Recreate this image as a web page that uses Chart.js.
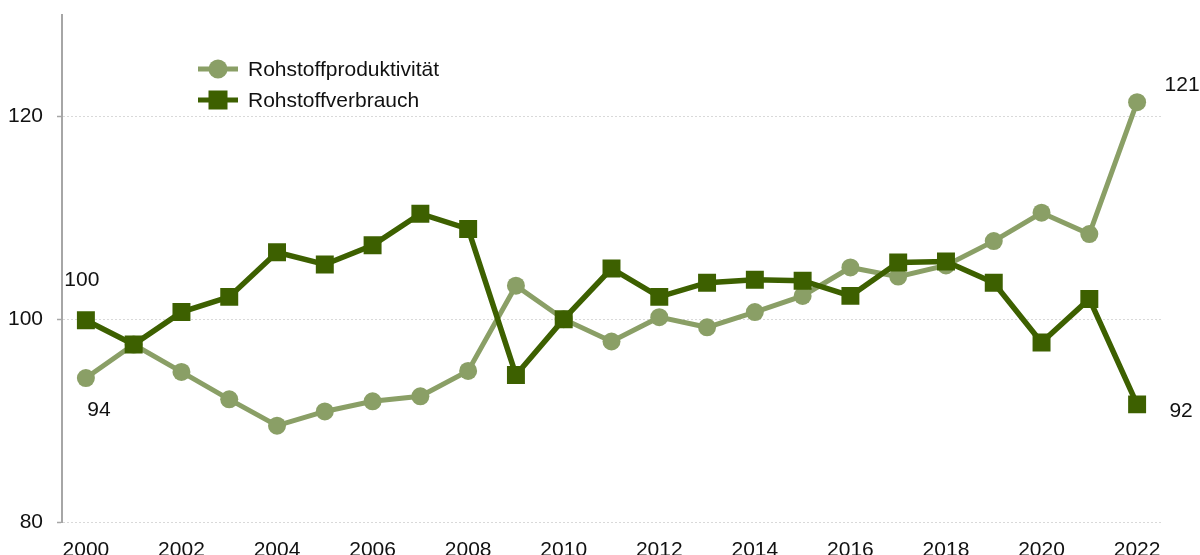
<!DOCTYPE html>
<html>
<head>
<meta charset="utf-8">
<script src="https://cdn.jsdelivr.net/npm/chart.js@4"></script>
<style>
  html, body { margin: 0; padding: 0; background: #fff; }
  #wrap { width: 1200px; height: 555px; }
</style>
</head>
<body>
<div id="wrap"><canvas id="myChart"></canvas></div>
<script>
// data block
var years = ['2000','2001','2002','2003','2004','2005','2006','2007','2008','2009','2010','2011',
             '2012','2013','2014','2015','2016','2017','2018','2019','2020','2021','2022'];
var produktivitaet = [94.2, 97.5, 94.8, 92.1, 89.5, 90.9, 91.9, 92.4, 94.9, 103.3, 100, 97.8,
                      100.2, 99.2, 100.7, 102.3, 105.1, 104.2, 105.3, 107.7, 110.5, 108.4, 121.4];
var verbrauch = [99.9, 97.5, 100.7, 102.2, 106.6, 105.4, 107.3, 110.4, 108.9, 94.5, 100, 105,
                 102.2, 103.6, 103.9, 103.8, 102.3, 105.6, 105.7, 103.6, 97.7, 102, 91.6];
var seriesNames = ['Rohstoffproduktivität', 'Rohstoffverbrauch'];
// which points get a value label: [dataset, index]
var valueLabels = [[1, 0], [0, 0], [0, 22], [1, 22]];

var lightGreen = '#8a9f66';
var darkGreen = '#3d6000';
var fontFam = '"Liberation Sans", Arial, sans-serif';

// offsets of the value labels from their point (dx, dy)
var labelOffsets = [[-4, -40], [13, 32], [45, -17], [44, 7]];

const valueLabelPlugin = {
    id: 'valueLabels',
    afterDatasetsDraw(chart) {
        const ctx = chart.ctx;
        ctx.save();
        ctx.font = '21px ' + fontFam;
        ctx.fillStyle = '#111';
        ctx.textAlign = 'center';
        ctx.textBaseline = 'middle';
        valueLabels.forEach(function(l, k) {
            var ds = chart.data.datasets[l[0]];
            var pt = chart.getDatasetMeta(l[0]).data[l[1]];
            ctx.fillText(Math.round(ds.data[l[1]]), pt.x + labelOffsets[k][0], pt.y + labelOffsets[k][1]);
        });
        ctx.restore();
    }
};

// legend drawn by hand so it sits inside the plot
const legendPlugin = {
    id: 'innerLegend',
    afterDraw(chart) {
        const ctx = chart.ctx;
        ctx.save();
        var rows = [
            { y: 69, color: lightGreen, shape: 'circle' },
            { y: 100, color: darkGreen, shape: 'rect' }
        ];
        rows.forEach(function(r, i) {
            ctx.strokeStyle = r.color;
            ctx.fillStyle = r.color;
            ctx.lineWidth = 5;
            ctx.beginPath();
            ctx.moveTo(198, r.y);
            ctx.lineTo(238, r.y);
            ctx.stroke();
            if (r.shape === 'circle') {
                ctx.beginPath();
                ctx.arc(218, r.y, 9.5, 0, Math.PI * 2);
                ctx.fill();
            } else {
                ctx.fillRect(208.5, r.y - 9.5, 19, 19);
            }
            ctx.fillStyle = '#111';
            ctx.font = '21px ' + fontFam;
            ctx.textAlign = 'left';
            ctx.textBaseline = 'middle';
            ctx.fillText(seriesNames[i], 248, r.y + 1);
        });
        ctx.restore();
    }
};

var data = {
    labels: years,
    datasets: [{
        label: seriesNames[0],
        data: produktivitaet,
        borderColor: lightGreen,
        backgroundColor: lightGreen,
        borderWidth: 5,
        pointStyle: 'circle',
        pointRadius: 9,
        pointHoverRadius: 9,
        pointBorderWidth: 0,
        tension: 0,
        order: 2
    }, {
        label: seriesNames[1],
        data: verbrauch,
        borderColor: darkGreen,
        backgroundColor: darkGreen,
        borderWidth: 5.5,
        pointStyle: 'rect',
        pointRadius: 12.7,
        pointHoverRadius: 12.7,
        pointBorderWidth: 0,
        tension: 0,
        order: 1
    }]
};

//config block
const config = {
    type: 'line',
    data,
    options: {
        responsive: true,
        maintainAspectRatio: false,
        animation: false,
        layout: { padding: { top: 15, right: 39, left: 0, bottom: 0 } },
        plugins: {
            legend: { display: false },
            tooltip: { enabled: false }
        },
        scales: {
            x: {
                offset: true,
                grid: { display: false },
                border: { display: false },
                ticks: {
                    autoSkip: false,
                    maxRotation: 0,
                    padding: 8,
                    color: '#111',
                    font: { family: fontFam, size: 21 },
                    callback: function(v, i) { return i % 2 === 0 ? years[i] : ''; }
                },
                afterFit: function(scale) {
                    scale.height = 33;
                    scale.paddingLeft = 0;
                    scale.paddingRight = 0;
                }
            },
            y: {
                min: 80,
                max: 130,
                border: { display: true, color: '#a6a6a6', width: 2, dash: [2, 2] },
                grid: {
                    color: '#d9d9d9',
                    tickLength: 5,
                    tickColor: '#a6a6a6',
                    tickWidth: 1.5
                },
                ticks: {
                    stepSize: 20,
                    includeBounds: false,
                    padding: 14,
                    color: '#111',
                    font: { family: fontFam, size: 21 }
                },
                afterFit: function(scale) {
                    scale.width = 62;
                    scale.paddingTop = 0;
                    scale.paddingBottom = 0;
                }
            }
        }
    },
    plugins: [valueLabelPlugin, legendPlugin]
};

//render block
const myChart = new Chart(document.getElementById('myChart'), config);
</script>
</body>
</html>
